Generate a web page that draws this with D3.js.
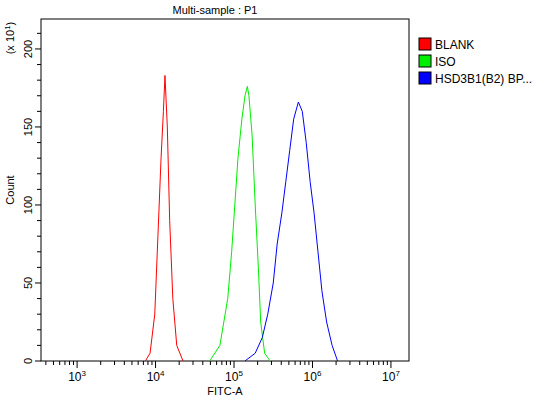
<!DOCTYPE html><html><head><script src="https://cdn.jsdelivr.net/npm/d3@7"></script>
<style>body{margin:0;background:#fff}text{font-family:"Liberation Sans",Arial,sans-serif}</style></head><body><svg id="c" width="546" height="400"></svg><script>
const seriesNames=["BLANK","ISO","HSD3B1(B2) BP..."];
const colors=["#ff0000","#00ee00","#0000ff"];
const blank=[[3.87,0],[3.93,5],[3.99,30],[4.03,80],[4.07,130],[4.10,160],[4.12,183],[4.15,150],[4.18,90],[4.22,40],[4.27,10],[4.35,0]];
const iso=[[4.69,0],[4.82,10],[4.92,40],[4.97,70],[5.01,100],[5.05,130],[5.10,155],[5.14,170],[5.17,176],[5.19,170],[5.23,145],[5.27,100],[5.31,60],[5.34,25],[5.39,5],[5.46,0]];
const hsd=[[5.14,0],[5.27,5],[5.36,15],[5.43,30],[5.50,50],[5.55,75],[5.61,95],[5.66,115],[5.71,135],[5.76,155],[5.82,166],[5.87,160],[5.92,140],[5.97,115],[6.02,95],[6.07,70],[6.12,45],[6.18,25],[6.25,10],[6.32,0]];
const xTickExp=[3,4,5,6,7];
const yTicks=[0,50,100,150,200];
const svg=d3.select("#c");
const L=41,R=409,T=19,B=361;
const x=d3.scaleLinear().domain([2.54,7.23]).range([L,R]);
const y=d3.scaleLinear().domain([0,219.2]).range([B,T]);
svg.append("rect").attr("x",L).attr("y",T).attr("width",R-L).attr("height",B-T).attr("fill","none").attr("stroke","#000");
xTickExp.forEach(e=>{
  svg.append("line").attr("x1",x(e)).attr("x2",x(e)).attr("y1",B).attr("y2",B+7).attr("stroke","#000");
  const t=svg.append("text").attr("x",x(e)).attr("y",B+20).attr("text-anchor","middle").attr("font-size",12);
  t.append("tspan").text("10");t.append("tspan").attr("dy",-5).attr("font-size",8).text(e);
});
for(let e=2;e<=7;e++)for(let k=2;k<=9;k++){const v=e+Math.log10(k);if(v>=2.54&&v<=7.23)svg.append("line").attr("x1",x(v)).attr("x2",x(v)).attr("y1",B).attr("y2",B+4).attr("stroke","#000");}
for(let v=0;v<=210;v+=10){svg.append("line").attr("x1",L-(v%50===0?6:4)).attr("x2",L).attr("y1",y(v)).attr("y2",y(v)).attr("stroke","#000");}
yTicks.forEach(v=>svg.append("text").attr("transform",`translate(${L-9},${y(v)}) rotate(-90)`).attr("text-anchor","middle").attr("font-size",11).text(v));
svg.append("text").attr("transform","translate(14,190) rotate(-90)").attr("text-anchor","middle").attr("font-size",11).text("Count");
const yl=svg.append("text").attr("transform","translate(14,38) rotate(-90)").attr("text-anchor","middle").attr("font-size",11);
yl.append("tspan").text("(x 10");yl.append("tspan").attr("dy",-4).attr("font-size",8).text("1");yl.append("tspan").attr("dy",4).text(")");
svg.append("text").attr("x",225).attr("y",395).attr("text-anchor","middle").attr("font-size",11).text("FITC-A");
svg.append("text").attr("x",215).attr("y",14).attr("text-anchor","middle").attr("font-size",11).text("Multi-sample : P1");
const line=d3.line().x(d=>x(d[0])).y(d=>y(d[1])).curve(d3.curveLinear);
[blank,iso,hsd].forEach((s,i)=>svg.append("path").attr("d",line(s)).attr("fill","none").attr("stroke",colors[i]).attr("stroke-width",1));
seriesNames.forEach((n,i)=>{
  svg.append("rect").attr("x",419).attr("y",38+i*17).attr("width",12).attr("height",12).attr("fill",colors[i]).attr("stroke","#000");
  svg.append("text").attr("x",435).attr("y",49+i*17).attr("font-size",12).text(n);
});
</script></body></html>
